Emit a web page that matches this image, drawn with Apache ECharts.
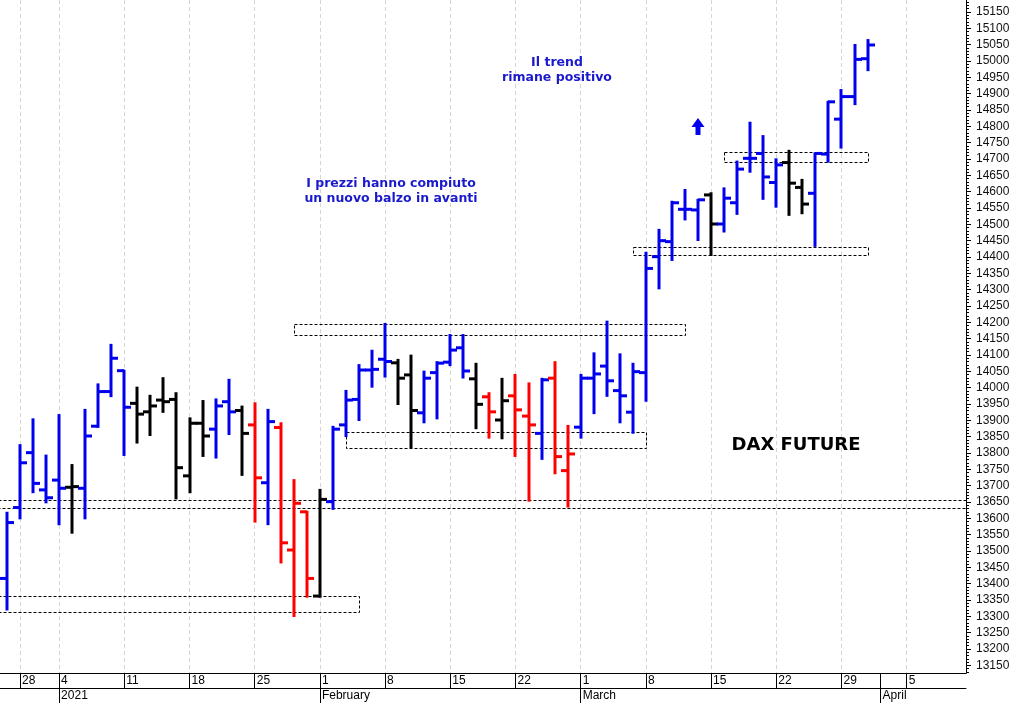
<!DOCTYPE html>
<html><head><meta charset="utf-8">
<script src="https://cdn.jsdelivr.net/npm/echarts@6/dist/echarts.min.js"></script>
<style>html,body{margin:0;padding:0;background:#fff}#c{width:1014px;height:703px}</style>
</head><body><div id="c"></div>
<script>
// ---- trading days (category slots) ----
const dates = [
 '2020-12-23','2020-12-28','2020-12-29','2020-12-30',
 '2021-01-04','2021-01-05','2021-01-06','2021-01-07','2021-01-08',
 '2021-01-11','2021-01-12','2021-01-13','2021-01-14','2021-01-15',
 '2021-01-18','2021-01-19','2021-01-20','2021-01-21','2021-01-22',
 '2021-01-25','2021-01-26','2021-01-27','2021-01-28','2021-01-29',
 '2021-02-01','2021-02-02','2021-02-03','2021-02-04','2021-02-05',
 '2021-02-08','2021-02-09','2021-02-10','2021-02-11','2021-02-12',
 '2021-02-15','2021-02-16','2021-02-17','2021-02-18','2021-02-19',
 '2021-02-22','2021-02-23','2021-02-24','2021-02-25','2021-02-26',
 '2021-03-01','2021-03-02','2021-03-03','2021-03-04','2021-03-05',
 '2021-03-08','2021-03-09','2021-03-10','2021-03-11','2021-03-12',
 '2021-03-15','2021-03-16','2021-03-17','2021-03-18','2021-03-19',
 '2021-03-22','2021-03-23','2021-03-24','2021-03-25','2021-03-26',
 '2021-03-29','2021-03-30','2021-03-31',
 '2021-04-01','2021-04-02','2021-04-05','2021-04-06','2021-04-07','2021-04-08','2021-04-09'
];
// ---- OHLC values (one per bar, from Dec 23 to Mar 31) ----
const opens = [13416,13633,13801,13687,13717,13695,13692,13882,13988,14052,13952,13926,13962,13964,13730,13891,13873,13957,13930,13886,13709,13878,13503,13620,13362,13651,13886,13964,14054,14087,14076,14039,13923,14046,14078,14122,14027,13972,13901,13975,13913,13860,14029,13746,13879,14029,14066,13991,13925,14046,14401,14447,14546,14544,14590,14501,14566,14702,14717,14628,14689,14613,14595,14715,14822,14891,15007];
const highs = [13617,13824,13903,13792,13916,13763,13932,14010,14131,14052,14000,13975,14029,13983,13906,13959,13964,14024,13942,13952,13932,13891,13717,13620,13687,13880,13990,14069,14113,14195,14085,14098,14049,14078,14161,14161,14073,13983,14027,14039,14013,14027,14078,13883,14039,14105,14202,14102,14073,14413,14483,14569,14605,14575,14595,14610,14692,14811,14770,14699,14725,14636,14717,14875,14911,15049,15064];
const lows = [13321,13600,13680,13649,13582,13556,13600,13880,13974,13794,13832,13855,13926,13661,13680,13791,13786,13858,13733,13590,13582,13465,13301,13360,13360,13629,13852,13901,14003,14034,13950,13818,13894,13906,14069,14031,13876,13847,13845,13791,13654,13782,13738,13636,13847,13922,13975,13894,13862,13960,14304,14391,14515,14452,14406,14478,14532,14661,14578,14554,14529,14534,14434,14692,14735,14868,14972];
const closes = [13587,13770,13707,13663,13692,13697,13852,13988,14090,13940,13919,13944,13957,13755,13891,13852,13944,13926,13860,13724,13896,13525,13646,13416,13658,13873,13962,14054,14056,14080,14029,13930,14029,14075,14115,14051,13949,13926,13960,13932,13886,14024,13789,13797,14029,14042,14021,13975,14049,14365,14450,14566,14546,14575,14501,14580,14669,14702,14645,14682,14626,14562,14717,14875,14891,15005,15049];
const barColors = ['B','B','B','B','B','K','B','B','B','B','K','K','K','K','K','K','B','B','K','R','B','R','R','R','K','B','B','B','B','B','K','K','B','B','B','B','K','R','K','R','R','B','R','R','B','B','B','B','B','B','B','B','B','B','K','B','B','B','B','B','K','K','B','B','B','B','B'];
// ---- y tick labels ----
const yTicks = [13150,13200,13250,13300,13350,13400,13450,13500,13550,13600,13650,13700,13750,13800,13850,13900,13950,14000,14050,14100,14150,14200,14250,14300,14350,14400,14450,14500,14550,14600,14650,14700,14750,14800,14850,14900,14950,15000,15050,15100,15150];
const monthLabels = {1:'2021',2:'February',3:'March',4:'April'};
// ---- dashed annotation boxes (null = runs past the plot edge) ----
const zoneStart  = [null,  null,  '2021-02-03','2021-01-28','2021-03-05','2021-03-16'];
const zoneEnd    = ['2021-02-04', null, '2021-03-08','2021-03-11','2021-03-31','2021-03-31'];
const zoneTop    = [13362, 13656, 13863, 14196, 14430, 14720];
const zoneBottom = [13313, 13631, 13815, 14161, 14405, 14690];

const colorMap = {B:'#0000ee', K:'#000000', R:'#ff0000'};
const idxOf = d => dates.indexOf(d);
const dow = d => new Date(d + 'T00:00:00Z').getUTCDay();
const mondayIdx = dates.map((d,i)=>i).filter(i => dow(dates[i]) === 1);
const monthStartIdx = dates.map((d,i)=>i).filter(i => i>0 && dates[i].slice(5,7) !== dates[i-1].slice(5,7));
const minorTicks = []; for (let v = 13130; v <= 15180; v += 10) minorTicks.push(v);

const barData = opens.map((o,i)=>[i, o, closes[i], lows[i], highs[i]]);
const zoneData = zoneTop.map((t,i)=>[
  zoneStart[i] === null ? -3 : idxOf(zoneStart[i]),
  zoneEnd[i] === null ? 80 : idxOf(zoneEnd[i]),
  t, zoneBottom[i]
]);

const chart = echarts.init(document.getElementById('c'));
const font = '"Liberation Sans", Arial, sans-serif';
const X_MIN = -0.534, X_MAX = 73.55;

chart.setOption({
  animation: false,
  backgroundColor: '#fff',
  grid: {left: 0, right: 48, top: 0, bottom: 30, containLabel: false, outerBoundsMode: 'none'},
  xAxis: [
    { type:'value', min:X_MIN, max:X_MAX, position:'bottom',
      axisLine:{show:true, onZero:false, lineStyle:{color:'#000', width:1}},
      axisTick:{show:true, customValues: mondayIdx, length:15, lineStyle:{color:'#000', width:1}},
      axisLabel:{show:true, customValues: mondayIdx, formatter: v => String(parseInt(dates[Math.round(v)].slice(8,10),10)),
        align:'left', margin:2, padding:[0,0,0,2], fontSize:12, color:'#000', fontFamily:font},
      splitLine:{show:true, lineStyle:{color:'#d4d4d4', width:1, type:[4,3]}}
    },
    { type:'value', min:X_MIN, max:X_MAX, position:'bottom', offset:15,
      axisLine:{show:true, onZero:false, lineStyle:{color:'#000', width:1}},
      axisTick:{show:true, customValues: monthStartIdx, length:15, lineStyle:{color:'#000', width:1}},
      axisLabel:{show:true, customValues: monthStartIdx, formatter: v => monthLabels[parseInt(dates[Math.round(v)].slice(5,7),10)],
        align:'left', margin:2, padding:[0,0,0,2], fontSize:12, color:'#000', fontFamily:font},
      splitLine:{show:false}
    },
    { type:'value', min:X_MIN, max:X_MAX, position:'bottom', offset:0,
      axisLine:{show:false, onZero:false},
      axisTick:{show:true, customValues: monthStartIdx, length:15, lineStyle:{color:'#000', width:1}},
      axisLabel:{show:false}, splitLine:{show:false}
    }
  ],
  yAxis: [
    { type:'value', min:13126.5, max:15186.7, position:'right',
      axisLine:{show:true, onZero:false, lineStyle:{color:'#000', width:1}},
      axisTick:{show:true, customValues: yTicks, length:5, lineStyle:{color:'#000', width:1}},
      axisLabel:{show:true, customValues: yTicks, formatter: v => String(v), margin:10, fontSize:12, color:'#111', fontFamily:font},
      splitLine:{show:false}
    },
    { type:'value', min:13126.5, max:15186.7, position:'right',
      axisLine:{show:false, onZero:false},
      axisTick:{show:true, customValues: minorTicks, length:3, lineStyle:{color:'#000', width:1}},
      axisLabel:{show:false}, splitLine:{show:false}
    }
  ],
  series: [
    { type:'custom', name:'zones', xAxisIndex:0, yAxisIndex:0, clip:true, silent:true, z:1,
      data: zoneData,
      renderItem: (params, api) => {
        const p1 = api.coord([api.value(0), api.value(2)]);
        const p2 = api.coord([api.value(1), api.value(3)]);
        const x = Math.round(p1[0]) + 0.5, y = Math.round(p1[1]) + 0.5;
        const w = Math.round(p2[0]) - Math.round(p1[0]), h = Math.round(p2[1]) - Math.round(p1[1]);
        return {type:'rect', shape:{x, y, width:w, height:h},
          style:{fill:'none', stroke:'#000', lineWidth:1, lineDash:[3,2]}};
      }
    },
    { type:'custom', name:'DAX', xAxisIndex:0, yAxisIndex:0, clip:true, silent:true, z:3,
      data: barData,
      renderItem: (params, api) => {
        const i = api.value(0);
        const o = api.coord([i, api.value(1)]);
        const c = api.coord([i, api.value(2)]);
        const l = api.coord([i, api.value(3)]);
        const h = api.coord([i, api.value(4)]);
        const col = colorMap[barColors[params.dataIndex]];
        const x = Math.round(o[0]);
        const st = {stroke: col, lineWidth: 3};
        return {type:'group', children:[
          {type:'line', shape:{x1:x, y1:h[1]-1, x2:x, y2:l[1]+1}, style:st},
          {type:'line', shape:{x1:x-7, y1:o[1], x2:x, y2:o[1]}, style:st},
          {type:'line', shape:{x1:x, y1:c[1], x2:x+7, y2:c[1]}, style:st}
        ]};
      }
    }
  ],
  graphic: [
    {type:'text', z:10, style:{text:'Il trend\nrimane positivo', x:557, y:70.5, align:'center', verticalAlign:'middle',
      font:'bold 12.5px "DejaVu Sans", Verdana, sans-serif', fill:'#1a1acc', lineHeight:15}},
    {type:'text', z:10, style:{text:'I prezzi hanno compiuto\nun nuovo balzo in avanti', x:391, y:191, align:'center', verticalAlign:'middle',
      font:'bold 12.5px "DejaVu Sans", Verdana, sans-serif', fill:'#1a1acc', lineHeight:15}},
    {type:'text', z:10, style:{text:'DAX FUTURE', x:796, y:445, align:'center', verticalAlign:'middle',
      font:'bold 18px "DejaVu Sans", Verdana, sans-serif', fill:'#000'}},
    {type:'polygon', z:10, shape:{points:[[698,118],[704.5,127],[700.5,127],[700.5,135],[695.5,135],[695.5,127],[691.5,127]]},
      style:{fill:'#0000ee'}}
  ]
});
</script>
</body></html>
